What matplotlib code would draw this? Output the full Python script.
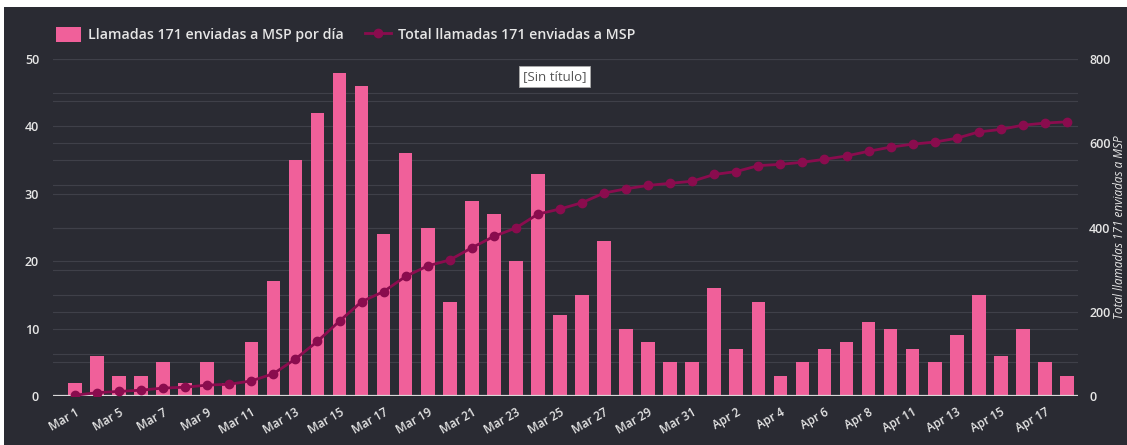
import matplotlib
matplotlib.use("Agg")
import matplotlib.pyplot as plt
from matplotlib.patches import Patch, Rectangle
from matplotlib.lines import Line2D

# datos
fechas = ["Mar 1", "Mar 4", "Mar 5", "Mar 6", "Mar 7", "Mar 8", "Mar 9", "Mar 10",
          "Mar 11", "Mar 12", "Mar 13", "Mar 14", "Mar 15", "Mar 16", "Mar 17", "Mar 18",
          "Mar 19", "Mar 20", "Mar 21", "Mar 22", "Mar 23", "Mar 24", "Mar 25", "Mar 26",
          "Mar 27", "Mar 28", "Mar 29", "Mar 30", "Mar 31", "Apr 1", "Apr 2", "Apr 3",
          "Apr 4", "Apr 5", "Apr 6", "Apr 7", "Apr 8", "Apr 9", "Apr 11", "Apr 12",
          "Apr 13", "Apr 14", "Apr 15", "Apr 16", "Apr 17", "Apr 18"]
por_dia = [2, 6, 3, 3, 5, 2, 5, 2, 8, 17, 35, 42, 48, 46, 24, 36,
           25, 14, 29, 27, 20, 33, 12, 15, 23, 10, 8, 5, 5, 16, 7, 14,
           3, 5, 7, 8, 11, 10, 7, 5, 9, 15, 6, 10, 5, 3]
total = [2, 8, 11, 14, 19, 21, 26, 28, 36, 53, 88, 130, 178, 224, 248, 284,
         309, 323, 352, 379, 399, 432, 444, 459, 482, 492, 500, 505, 510, 526, 533, 547,
         550, 555, 562, 570, 581, 591, 598, 603, 612, 627, 633, 643, 648, 651]
ticks_izq = [0, 10, 20, 30, 40, 50]
ticks_der = [0, 200, 400, 600, 800]

fondo = "#2a2b33"
rosa = "#f0609a"
vino = "#8a0c4e"
texto = "#e6e6e6"
grid_c = "#3f4049"

fig = plt.figure(figsize=(11.27, 4.45), dpi=100, facecolor=fondo)
# bordes blancos de la captura (arriba e izquierda)
fig.patches.append(Rectangle((0, (445 - 7) / 445), 1, 1, transform=fig.transFigure,
                             facecolor="white", edgecolor="none", zorder=-5))
fig.patches.append(Rectangle((0, 0), 4 / 1127, 1, transform=fig.transFigure,
                             facecolor="white", edgecolor="none", zorder=-5))

ax = fig.add_axes([0.047, 0.110, 0.9095, 0.7573])
ax.patch.set_alpha(0)
x = list(range(len(fechas)))

# lineas de grilla de ambos ejes (detras de las barras)
for v in range(0, 51, 5):
    ax.axhline(v, color=grid_c, lw=0.8, zorder=0)
for v in range(100, 801, 100):
    ax.axhline(v * 50 / 800, color=grid_c, lw=0.8, zorder=0)

ax.bar(x, por_dia, width=0.62, color=rosa, zorder=2)
ax.axhline(0, color="#d8d8d8", lw=1.6, zorder=3)
ax.set_xlim(-1.0, 45.5)
ax.set_ylim(0, 50)
ax.set_yticks(ticks_izq)
ax.set_xticks(x[::2])
ax.set_xticklabels(fechas[::2], rotation=30, ha="right", rotation_mode="anchor",
                   fontsize=8.5, color=texto, family="Open Sans", fontweight="semibold")
ax.tick_params(axis="both", length=0, colors=texto)
ax.tick_params(axis="x", pad=7)
ax.tick_params(axis="y", pad=10)
for lab in ax.get_yticklabels():
    lab.set_fontsize(9)
    lab.set_family("Open Sans")
    lab.set_fontweight("semibold")
for s in ax.spines.values():
    s.set_visible(False)

ax2 = ax.twinx()
ax2.plot(x, total, color=vino, lw=2, marker="o", markersize=6, zorder=4)
ax2.set_ylim(0, 800)
ax2.set_yticks(ticks_der)
ax2.tick_params(axis="y", length=0, colors=texto, pad=8)
for lab in ax2.get_yticklabels():
    lab.set_fontsize(9)
    lab.set_family("Open Sans")
    lab.set_fontweight("semibold")
for s in ax2.spines.values():
    s.set_visible(False)
ax2.set_ylabel("Total llamadas 171 enviadas a MSP", color=texto, fontsize=8.5,
               style="italic", family="Open Sans", labelpad=2)

handles = [Patch(facecolor=rosa, edgecolor="none"),
           Line2D([0], [0], color=vino, lw=2, marker="o", markersize=6)]
leg = fig.legend(handles, ["Llamadas 171 enviadas a MSP por día", "Total llamadas 171 enviadas a MSP"],
                 loc="upper left", bbox_to_anchor=(0.038, 0.967), ncol=2, frameon=False,
                 prop={"family": "Open Sans", "size": 10.2, "weight": "semibold"},
                 labelcolor=texto, handlelength=1.8, handleheight=1.2,
                 columnspacing=1.5, handletextpad=0.5)

fig.text(0.492, 0.828, "[Sin título]", ha="center", va="center", fontsize=9.5,
         family="Open Sans", color="#555555",
         bbox=dict(boxstyle="square,pad=0.3", facecolor="white", edgecolor="#aaaaaa", lw=0.6))

fig.savefig("out.png", dpi=100, facecolor=fondo)
